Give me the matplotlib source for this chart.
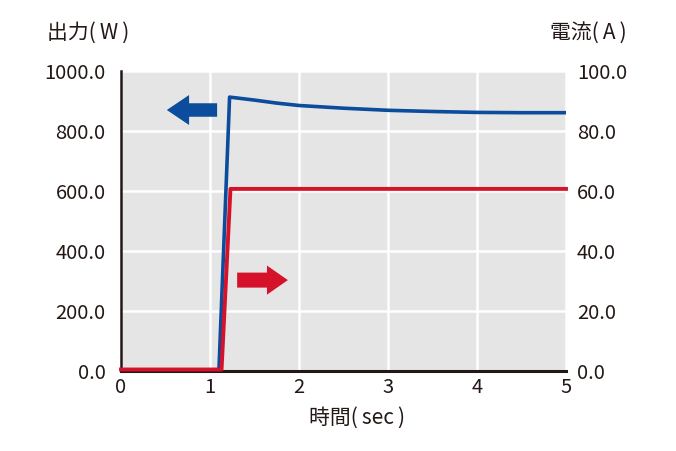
import matplotlib.pyplot as plt
from matplotlib.patches import FancyArrow

plt.rcParams['font.family'] = ['Noto Sans CJK JP', 'DejaVu Sans']

# power (W), left axis
t_power = [0.0, 1.10, 1.22, 1.5, 1.75, 2.0, 2.5, 3.0, 3.5, 4.0, 4.5, 5.0]
power = [0.0, 0.0, 913, 903, 893, 885, 876, 869, 865, 862, 861, 861]

# current (A), right axis
t_current = [0.0, 1.13, 1.23, 5.0]
current = [0.5, 0.5, 60.7, 60.7]

x_ticks = [0, 1, 2, 3, 4, 5]
left_ticks = [0, 200, 400, 600, 800, 1000]
right_ticks = [0, 20, 40, 60, 80, 100]

blue = '#0b4c9c'
red = '#d6122b'
txt = '#231815'

fig = plt.figure(figsize=(6.76, 4.51), dpi=100)
ax = fig.add_axes([121 / 676, 1 - 371 / 451, 445 / 676, 300 / 451])
ax.set_facecolor('#e5e5e5')
ax2 = ax.twinx()

ax.set_xlim(0, 5)
ax.set_ylim(0, 1000)
ax2.set_ylim(0, 100)
ax.set_xticks(x_ticks)
ax.set_yticks(left_ticks)
ax2.set_yticks(right_ticks)
ax.set_xticklabels([str(v) for v in x_ticks])
ax.set_yticklabels(['%.1f' % v for v in left_ticks])
ax2.set_yticklabels(['%.1f' % v for v in right_ticks])

ax.grid(True, color='white', lw=1.8)
ax.set_axisbelow(True)
for a in (ax, ax2):
    a.tick_params(length=0, labelsize=14.5, colors=txt)
    for s in ('top', 'right'):
        a.spines[s].set_visible(False)
ax2.spines['left'].set_visible(False)
ax2.spines['bottom'].set_visible(False)
ax.spines['left'].set_color(txt)
ax.spines['left'].set_linewidth(1.8)
ax.spines['bottom'].set_color(txt)
ax.spines['bottom'].set_linewidth(2.2)
ax.tick_params(axis='y', pad=11)
ax2.tick_params(axis='y', pad=8)
ax.tick_params(axis='x', pad=4)

ax2.plot(t_power, [p / 10 for p in power], color=blue, lw=2.6, zorder=2)
ax2.plot(t_current, current, color=red, lw=2.8, clip_on=False, zorder=4)

# direction arrows
ax.add_patch(FancyArrow(0.216, 0.87, -0.063, 0, width=0.045,
                        head_width=0.10, head_length=0.05,
                        transform=ax.transAxes, color=blue, lw=0, zorder=5))
ax.add_patch(FancyArrow(0.261, 0.303, 0.067, 0, width=0.05,
                        head_width=0.097, head_length=0.047,
                        transform=ax.transAxes, color=red, lw=0, zorder=5))

lab = dict(fontsize=15, color=txt, va='center')
fig.text(47 / 676, 1 - 33 / 451, '出力(\u2009W\u2009)', ha='left', **lab)
fig.text(627 / 676, 1 - 33 / 451, '電流(\u2009A\u2009)', ha='right', **lab)
fig.text(357 / 676, 1 - 418 / 451, '時間(\u2009sec\u2009)', ha='center', **lab)

fig.savefig('out.png', dpi=100)
